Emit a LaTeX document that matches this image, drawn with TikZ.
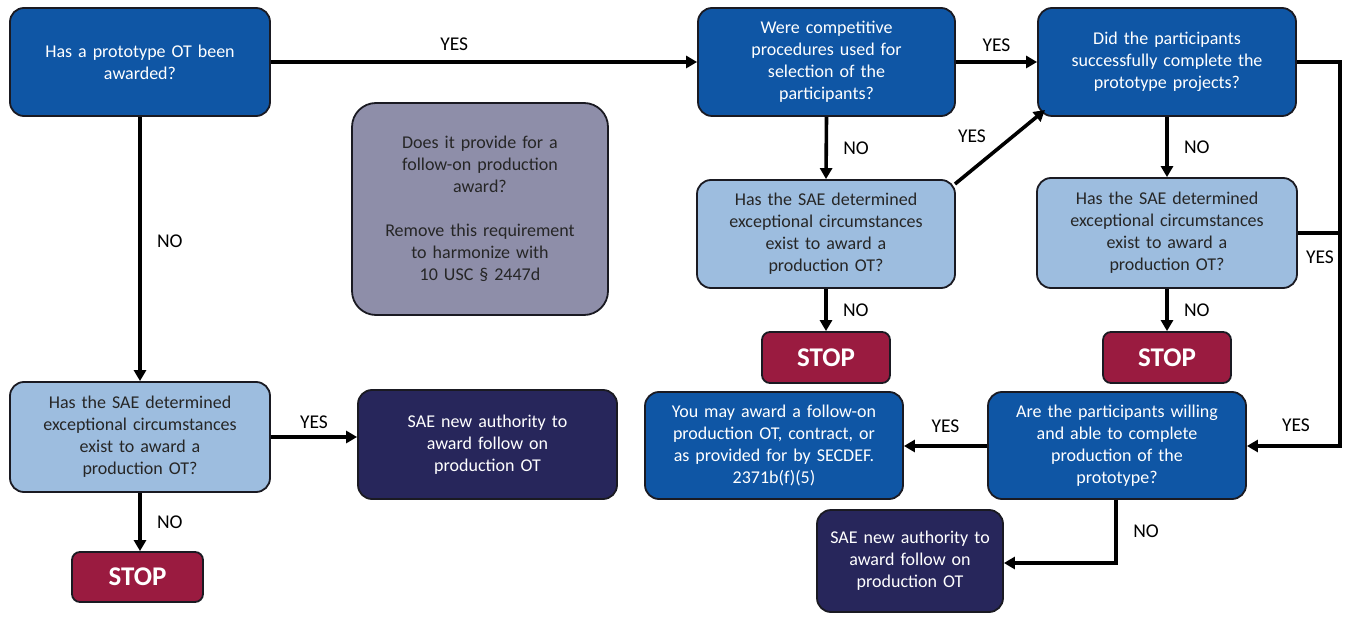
\documentclass[tikz,border=0pt]{standalone}
\usepackage{fontspec}
\setmainfont{Carlito}
\usetikzlibrary{arrows.meta}
\definecolor{dblue}{HTML}{0F56A5}
\definecolor{lblue}{HTML}{9DBDDF}
\definecolor{navy}{HTML}{27265B}
\definecolor{stopred}{HTML}{9A1B40}
\definecolor{grayp}{HTML}{8E8EA9}
\definecolor{edge}{HTML}{1A1A22}
\tikzset{
  box/.style={draw=edge, line width=1.8pt, rounded corners=14pt, align=center, inner sep=3pt,
    font=\fontsize{18}{22}\selectfont},
  darkbox/.style={box, fill=dblue, text=white},
  lightbox/.style={box, fill=lblue, text=black!85},
  navybox/.style={box, fill=navy, text=white},
  graybox/.style={box, fill=grayp, text=black!85, rounded corners=24pt},
  stopbox/.style={box, fill=stopred, text=white, rounded corners=8pt, font=\fontsize{27}{30}\selectfont\bfseries},
  conn/.style={line width=3.6pt, -{Triangle[length=11pt,width=12pt]}, line join=miter},
  plain/.style={line width=3.6pt},
  lbl/.style={font=\fontsize{19.5}{22}\selectfont, text=black}
}
\begin{document}
\begin{tikzpicture}[x=1pt,y=-1pt]
\useasboundingbox (0,0) rectangle (1348,617);
% boxes
\node[darkbox, minimum width=260pt, minimum height=108pt, text width=240pt] (A) at (140,62) {Has a prototype OT been\\awarded?};
\node[darkbox, minimum width=257pt, minimum height=108pt, text width=240pt] (B) at (826.5,62) {Were competitive\\procedures used for\\selection of the\\participants?};
\node[darkbox, minimum width=258pt, minimum height=108pt, text width=240pt] (C) at (1167,62) {Did the participants\\successfully complete the\\prototype projects?};
\node[graybox, minimum width=256pt, minimum height=212pt, text width=240pt] (D) at (480,209) {Does it provide for a\\follow-on production\\award?\\[22pt]Remove this requirement\\to harmonize with\\10 USC § 2447d};
\node[lightbox, minimum width=258pt, minimum height=108pt, text width=240pt] (E) at (826,234) {Has the SAE determined\\exceptional circumstances\\exist to award a\\production OT?};
\node[lightbox, minimum width=260pt, minimum height=110pt, text width=240pt] (F) at (1167,233) {Has the SAE determined\\exceptional circumstances\\exist to award a\\production OT?};
\node[stopbox, minimum width=128pt, minimum height=51pt] (S1) at (826,357.5) {STOP};
\node[stopbox, minimum width=128pt, minimum height=51pt] (S2) at (1167,357.5) {STOP};
\node[darkbox, minimum width=258pt, minimum height=107pt, text width=240pt] (G) at (774,445.5) {You may award a follow-on\\production OT, contract, or\\as provided for by SECDEF.\\2371b(f)(5)};
\node[darkbox, minimum width=258pt, minimum height=107pt, text width=240pt] (H) at (1117,445.5) {Are the participants willing\\and able to complete\\production of the\\prototype?};
\node[navybox, minimum width=186pt, minimum height=102pt, text width=176pt] (I) at (910,561) {SAE new authority to\\award follow on\\production OT};
\node[lightbox, minimum width=260pt, minimum height=110pt, text width=240pt] (J) at (140,437) {Has the SAE determined\\exceptional circumstances\\exist to award a\\production OT?};
\node[navybox, minimum width=259pt, minimum height=109pt, text width=240pt] (K) at (487.5,444.5) {SAE new authority to\\award follow on\\production OT};
\node[stopbox, minimum width=131pt, minimum height=50pt] (S3) at (137.5,577) {STOP};
% connectors
\draw[conn] (A.east |- 0,62) -- (B.west |- 0,62) node[lbl, pos=0.43, above=6pt] {YES};
\draw[conn] (B.east |- 0,62) -- (C.west |- 0,62) node[lbl, midway, above=5pt] {YES};
\draw[conn] (A.south -| 140,0) -- (J.north -| 140,0) node[lbl, pos=0.47, right=12pt] {NO};
\draw[conn] (J.east |- 0,437) -- (K.west |- 0,437) node[lbl, midway, above=3pt] {YES};
\draw[conn] (J.south -| 140,0) -- (S3.north -| 140,0) node[lbl, midway, right=12pt] {NO};
\draw[conn] (B.south) -- (E.north) node[lbl, midway, right=12pt] {NO};
\draw[conn] (E.south) -- (S1.north) node[lbl, midway, right=12pt] {NO};
\draw[conn] (C.south) -- (F.north) node[lbl, midway, right=12pt] {NO};
\draw[conn] (F.south) -- (S2.north) node[lbl, midway, right=12pt] {NO};
\coordinate (ediag) at (955,184);
\coordinate (cdiag) at (1045,110);
\draw[conn] (ediag) -- (cdiag);
\node[lbl] (yesd) at (972,136) {YES};
\coordinate (r1) at (1340,62);
\coordinate (r2) at (1340,446);
\draw[conn] (C.east |- r1) -- (r1) -- (r2) -- (H.east |- r2);
\node[lbl] (yesr) at (1296,425) {YES};
\draw[plain] (F.east |- 0,233) -- (1340,233);
\node[lbl] (yesf) at (1320,257) {YES};
\draw[conn] (H.west |- 0,446) -- (G.east |- 0,446) node[lbl, midway, above=8pt] {YES};
\coordinate (h1) at (1116,563);
\draw[conn] (H.south -| h1) -- (h1) -- (I.east |- h1);
\node[lbl] (noh) at (1146,531) {NO};
\end{tikzpicture}
\end{document}
